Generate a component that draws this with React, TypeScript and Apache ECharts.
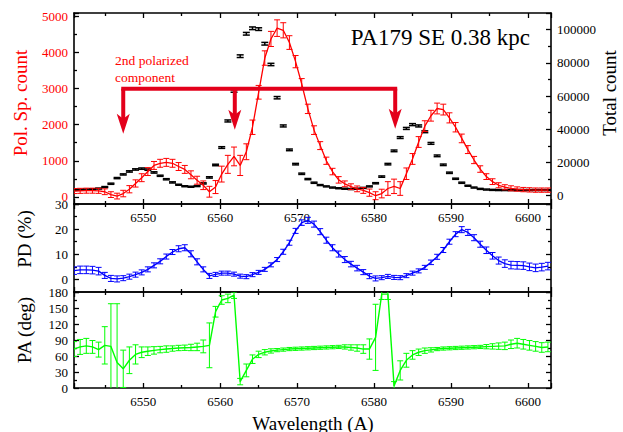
import React, { useEffect, useRef } from "react";
import * as echarts from "echarts";

// Sampled wavelengths (Å)
const wavelength = [
  6541.0, 6541.8, 6542.6, 6543.4, 6544.2, 6545.0, 6545.8, 6546.6, 6547.4, 6548.2,
  6549.0, 6549.8, 6550.6, 6551.4, 6552.2, 6553.0, 6553.8, 6554.6, 6555.4, 6556.2,
  6557.0, 6557.8, 6558.6, 6559.4, 6560.2, 6561.0, 6561.8, 6562.6, 6563.4, 6564.2,
  6565.0, 6565.8, 6566.6, 6567.4, 6568.2, 6569.0, 6569.8, 6570.6, 6571.4, 6572.2,
  6573.0, 6573.8, 6574.6, 6575.4, 6576.2, 6577.0, 6577.8, 6578.6, 6579.4, 6580.2,
  6581.0, 6581.8, 6582.6, 6583.4, 6584.2, 6585.0, 6585.8, 6586.6, 6587.4, 6588.2,
  6589.0, 6589.8, 6590.6, 6591.4, 6592.2, 6593.0, 6593.8, 6594.6, 6595.4, 6596.2,
  6597.0, 6597.8, 6598.6, 6599.4, 6600.2, 6601.0, 6601.8, 6602.6,
];

// Polarized spectrum counts and their errors (left axis)
const polCount = [
  160, 165, 170, 170, 165, 140, 60, 20, 90, 210,
  370, 530, 700, 870, 930, 955, 930, 840, 760, 610,
  460, 320, 140, 270, 630, 900, 1120, 870, 1250, 1930,
  2900, 3850, 4380, 4680, 4620, 4280, 3750, 3130, 2440, 1850,
  1420, 1000, 700, 470, 360, 280, 220, 175, 115, 30,
  90, 230, 290, 230, 640, 1050, 1520, 1960, 2250, 2450,
  2420, 2190, 1930, 1620, 1310, 1020, 770, 560, 420, 320,
  265, 235, 215, 200, 192, 185, 185, 185,
];
const polCountErr = [
  70, 70, 70, 70, 70, 80, 80, 80, 90, 100,
  100, 110, 110, 110, 110, 110, 110, 110, 110, 110,
  110, 120, 150, 180, 220, 250, 260, 280, 220, 200,
  190, 200, 210, 230, 210, 190, 170, 150, 130, 120,
  110, 100, 90, 90, 80, 80, 80, 80, 100, 110,
  120, 190, 200, 190, 160, 150, 150, 150, 150, 150,
  150, 140, 130, 120, 110, 100, 90, 80, 80, 70,
  70, 70, 60, 60, 60, 60, 60, 60,
];

// Total counts and their errors (right axis)
const totalCount = [
  3500, 3600, 3700, 3900, 4300, 5200, 7200, 10600, 12800, 14600,
  15800, 16300, 15700, 14000, 12000, 9900, 8000, 6600, 5700, 5400,
  5800, 7400, 11000, 18500, 29000, 45000, 63000, 84000, 97500, 100800,
  100300, 91500, 79000, 59000, 42000, 27600, 19000, 13200, 10000, 7800,
  6400, 5600, 4900, 4500, 4200, 4000, 4200, 4700, 5600, 7500,
  11500, 19000, 27000, 35000, 40500, 42800, 42000, 38500, 31500, 24000,
  18600, 13800, 10200, 7800, 6000, 4900, 4100, 3700, 3500, 3400,
  3400, 3400, 3400, 3400, 3400, 3400, 3400, 3400,
];
const totalCountErr = [
  300, 300, 300, 300, 300, 300, 350, 350, 350, 400,
  400, 400, 400, 400, 350, 350, 350, 300, 300, 300,
  300, 350, 400, 450, 500, 600, 700, 800, 800, 800,
  800, 800, 700, 700, 600, 500, 450, 400, 350, 350,
  300, 300, 300, 300, 300, 300, 300, 300, 300, 350,
  400, 450, 500, 550, 600, 600, 600, 550, 550, 500,
  450, 400, 350, 350, 300, 300, 300, 300, 300, 300,
  300, 300, 300, 300, 300, 300, 300, 300,
];

// Polarization degree (%)
const polDegree = [
  3.5, 3.8, 3.8, 3.7, 3.3, 1.6, 0.4, 0.2, 0.5, 1.1,
  1.9, 2.8, 4.0, 5.6, 7.2, 9.1, 10.9, 12.2, 12.6, 10.2,
  7.0, 4.0, 1.4, 2.0, 2.5, 2.5, 2.1, 1.3, 1.1, 1.9,
  2.8, 4.0, 5.8, 7.9, 11.0, 14.6, 19.3, 22.6, 23.5, 22.0,
  19.0, 15.6, 12.6, 10.1, 7.9, 6.1, 4.5, 2.9, 1.3, 0.4,
  0.7, 1.2, 0.8, 0.7, 1.5, 2.5, 3.4, 4.8, 6.8, 9.0,
  11.7, 15.0, 18.0, 19.8, 18.7, 16.6, 14.0, 11.6, 9.4, 7.5,
  6.3, 5.7, 5.6, 5.5, 5.0, 4.6, 4.9, 5.3,
];
const polDegreeErr = [
  1.5, 1.5, 1.5, 1.5, 1.5, 1.2, 1.2, 1.2, 1.0, 1.0,
  1.0, 1.0, 1.0, 1.0, 1.0, 1.0, 1.0, 1.2, 1.2, 1.2,
  1.2, 1.0, 1.0, 0.8, 0.8, 0.8, 0.8, 0.8, 0.8, 0.8,
  0.8, 0.8, 0.8, 0.8, 1.0, 1.0, 1.0, 1.1, 1.2, 1.2,
  1.2, 1.2, 1.2, 1.2, 1.2, 1.1, 1.1, 1.0, 1.0, 1.0,
  0.8, 0.8, 0.8, 0.8, 0.8, 0.8, 0.8, 0.8, 0.9, 1.0,
  1.0, 1.0, 1.0, 1.2, 1.2, 1.2, 1.2, 1.3, 1.3, 1.4,
  1.5, 1.5, 1.5, 1.5, 1.5, 1.5, 1.5, 1.5,
];

// Polarization angle (deg)
const polAngle = [
  73, 77, 79, 77, 72, 80, 78, 48, 36, 52,
  63, 67, 69, 70.5, 72, 73, 74, 75, 75.5, 76,
  77, 78, 80, 143, 165, 168, 174, 12, 33, 54,
  63, 67, 69.5, 71, 72, 73, 73.5, 74, 74.5, 75,
  75.5, 76, 76.5, 77, 77, 76, 75, 73, 73, 95,
  176, 176, 4, 33, 52, 62, 67, 70, 71.5, 73,
  74, 74.5, 75, 75.5, 76, 76.5, 77, 77.5, 78, 78.5,
  79, 82, 84, 82, 80, 78, 76, 77,
];
const polAngleErr = [
  14, 14, 14, 12, 14, 35, 80, 110, 35, 25,
  18, 10, 8, 7, 6, 6, 5, 5, 5, 6,
  7, 12, 42, 10, 8, 8, 6, 6, 12, 8,
  6, 5, 4, 3, 3, 3, 3, 3, 3, 3,
  3, 3, 3, 3, 4, 5, 6, 8, 19, 62,
  10, 10, 8, 18, 13, 8, 6, 5, 4, 3,
  3, 3, 3, 3, 3, 3, 3, 4, 5, 6,
  7, 8, 9, 9, 9, 9, 9, 9,
];

// Bracket marking the second polarized component: wavelengths (Å),
// bracket level and arrow tips (counts)
const markerWavelengths = [6547.4, 6561.9, 6582.75];
const markerLevel = 3000;
const markerTips = [1750, 1860, 1890];

const X_MIN = 6541;
const X_MAX = 6603;

const SERIF = "Liberation Serif, Times New Roman, serif";
const RED = "#ff0000";
const ARROW_RED = "#e3001b";
const BLUE = "#0000ff";
const GREEN = "#00ff00";
const BLACK = "#000000";

const tickLine = { color: BLACK, width: 1.3 };

function xAxisFor(gridIndex: number, position: string, showLabels: boolean) {
  return {
    type: "value",
    gridIndex,
    position,
    min: X_MIN,
    max: X_MAX,
    axisLine: { show: true, onZero: false, lineStyle: { color: BLACK, width: 1.6 } },
    axisTick: { show: true, inside: true, length: 5, lineStyle: tickLine },
    minorTick: { show: true, splitNumber: 2, length: 3, lineStyle: tickLine },
    splitLine: { show: false },
    minorSplitLine: { show: false },
    axisLabel: {
      show: showLabels,
      margin: 7,
      color: BLACK,
      fontFamily: SERIF,
      fontSize: 13,
      formatter: (v: number) => (v % 10 === 0 ? String(v) : ""),
    },
  };
}

function yAxisFor(
  gridIndex: number,
  position: string,
  min: number,
  max: number,
  step: number,
  showLabels: boolean,
  labelColor: string,
  interval?: number
) {
  const axis: any = {
    type: "value",
    gridIndex,
    position,
    min,
    max,
    axisLine: { show: true, onZero: false, lineStyle: { color: BLACK, width: 1.6 } },
    axisTick: { show: true, inside: true, length: 5, lineStyle: tickLine },
    minorTick: { show: true, splitNumber: 2, length: 3, lineStyle: tickLine },
    splitLine: { show: false },
    minorSplitLine: { show: false },
    axisLabel: {
      show: showLabels,
      margin: 6,
      color: labelColor,
      fontFamily: SERIF,
      fontSize: 13,
      formatter: (v: number) => (v % step === 0 ? String(v) : ""),
    },
  };
  if (interval !== undefined) axis.interval = interval;
  return axis;
}

function lineSeries(values: number[], color: string, xAxisIndex: number, yAxisIndex: number, width: number) {
  return {
    type: "line",
    xAxisIndex,
    yAxisIndex,
    data: wavelength.map((w, i) => [w, values[i]]),
    symbol: "none",
    showSymbol: false,
    clip: true,
    silent: true,
    lineStyle: { color, width },
    itemStyle: { color },
    z: 3,
  };
}

function errorBarSeries(
  values: number[],
  errors: number[],
  color: string,
  xAxisIndex: number,
  yAxisIndex: number,
  capWidth: number,
  lineWidth: number
) {
  return {
    type: "custom",
    xAxisIndex,
    yAxisIndex,
    clip: true,
    silent: true,
    z: 2,
    data: wavelength.map((w, i) => [w, values[i], errors[i]]),
    encode: { x: 0, y: 1 },
    renderItem: (_params: any, api: any) => {
      const x = api.value(0);
      const y = api.value(1);
      const e = api.value(2);
      const hi = api.coord([x, y + e]);
      const lo = api.coord([x, y - e]);
      const cx = hi[0];
      const half = capWidth / 2;
      const style = { stroke: color, lineWidth, fill: null };
      return {
        type: "group",
        children: [
          { type: "line", shape: { x1: cx, y1: hi[1], x2: cx, y2: lo[1] }, style },
          { type: "line", shape: { x1: cx - half, y1: hi[1], x2: cx + half, y2: hi[1] }, style },
          { type: "line", shape: { x1: cx - half, y1: lo[1], x2: cx + half, y2: lo[1] }, style },
        ],
      };
    },
  };
}

// Downward arrows hanging from the bracket, placed through the axis scales
function markerArrowSeries() {
  const headLength = 20;
  const headHalfWidth = 6.5;
  const notch = 5;
  return {
    type: "custom",
    xAxisIndex: 0,
    yAxisIndex: 0,
    silent: true,
    z: 5,
    data: markerWavelengths.map((w, i) => [w, markerTips[i]]),
    encode: { x: 0, y: 1 },
    renderItem: (_params: any, api: any) => {
      const w = api.value(0);
      const tip = api.coord([w, api.value(1)]);
      const base = api.coord([w, markerLevel]);
      const cx = tip[0];
      const ty = tip[1];
      return {
        type: "group",
        children: [
          {
            type: "line",
            shape: { x1: cx, y1: base[1], x2: cx, y2: ty - headLength + notch + 1 },
            style: { stroke: ARROW_RED, lineWidth: 4, lineCap: "butt" },
          },
          {
            type: "polygon",
            shape: {
              points: [
                [cx, ty],
                [cx - headHalfWidth, ty - headLength],
                [cx, ty - headLength + notch],
                [cx + headHalfWidth, ty - headLength],
              ],
            },
            style: { fill: ARROW_RED, stroke: null },
          },
        ],
      };
    },
  };
}

function textStyle(text: string, size: number, color: string, align: string, vAlign: string, extra: any = {}) {
  return {
    text,
    fill: color,
    font: `${size}px ${SERIF}`,
    align,
    verticalAlign: vAlign,
    textAlign: align,
    textVerticalAlign: vAlign,
    ...extra,
  };
}

export default function App() {
  const ref = useRef<HTMLDivElement>(null);

  useEffect(() => {
    if (!ref.current) return;
    const chart = echarts.init(ref.current, null, { renderer: "svg" });

    // horizontal bar of the bracket
    const bracketBar = {
      type: "line",
      xAxisIndex: 0,
      yAxisIndex: 0,
      silent: true,
      z: 5,
      symbol: "none",
      showSymbol: false,
      data: [
        [markerWavelengths[0], markerLevel],
        [markerWavelengths[markerWavelengths.length - 1], markerLevel],
      ],
      lineStyle: { color: ARROW_RED, width: 4, cap: "square" },
      itemStyle: { color: ARROW_RED },
    };

    chart.setOption({
      animation: false,
      backgroundColor: "#ffffff",
      grid: [
        { left: 74, top: 13, width: 477, height: 191 },
        { left: 74, top: 204, width: 477, height: 88 },
        { left: 74, top: 292, width: 477, height: 96 },
      ],
      xAxis: [
        xAxisFor(0, "bottom", true),
        xAxisFor(0, "top", false),
        xAxisFor(1, "bottom", false),
        xAxisFor(1, "top", false),
        xAxisFor(2, "bottom", true),
        xAxisFor(2, "top", false),
      ],
      yAxis: [
        yAxisFor(0, "left", -200, 5100, 1000, true, RED),
        yAxisFor(0, "right", -5000, 110000, 20000, true, BLACK),
        yAxisFor(1, "left", -5, 30, 10, true, BLACK),
        yAxisFor(1, "right", -5, 30, 10, false, BLACK),
        yAxisFor(2, "left", 0, 180, 30, true, BLACK, 30),
        yAxisFor(2, "right", 0, 180, 30, false, BLACK, 30),
      ],
      series: [
        errorBarSeries(totalCount, totalCountErr, BLACK, 0, 1, 7, 1.5),
        errorBarSeries(polCount, polCountErr, RED, 0, 0, 6, 1),
        lineSeries(polCount, RED, 0, 0, 1.3),
        bracketBar,
        markerArrowSeries(),
        errorBarSeries(polDegree, polDegreeErr, BLUE, 2, 2, 6, 1),
        lineSeries(polDegree, BLUE, 2, 2, 1.4),
        errorBarSeries(polAngle, polAngleErr, GREEN, 4, 4, 6, 1),
        lineSeries(polAngle, GREEN, 4, 4, 1.4),
      ],
      graphic: [
        {
          type: "text",
          x: 530,
          y: 37,
          silent: true,
          style: textStyle("PA179 SE 0.38 kpc", 23, BLACK, "right", "middle"),
        },
        {
          type: "text",
          x: 115,
          y: 69,
          silent: true,
          style: textStyle("2nd polarized\ncomponent", 13.5, RED, "left", "middle", { lineHeight: 17 }),
        },
        {
          type: "text",
          x: 20,
          y: 103,
          rotation: Math.PI / 2,
          silent: true,
          style: textStyle("Pol. Sp. count", 19, RED, "center", "middle"),
        },
        {
          type: "text",
          x: 609,
          y: 93,
          rotation: Math.PI / 2,
          silent: true,
          style: textStyle("Total count", 19, BLACK, "center", "middle"),
        },
        {
          type: "text",
          x: 24,
          y: 239,
          rotation: Math.PI / 2,
          silent: true,
          style: textStyle("PD (%)", 19, BLACK, "center", "middle"),
        },
        {
          type: "text",
          x: 24,
          y: 330,
          rotation: Math.PI / 2,
          silent: true,
          style: textStyle("PA (deg)", 19, BLACK, "center", "middle"),
        },
        {
          type: "text",
          x: 313,
          y: 423,
          silent: true,
          style: textStyle("Wavelength (A)", 19, BLACK, "center", "middle"),
        },
      ],
    });

    return () => {
      chart.dispose();
    };
  }, []);

  return (
    <div
      ref={ref}
      style={{ position: "fixed", left: 0, top: 0, width: 623, height: 432, background: "#fff" }}
    />
  );
}
